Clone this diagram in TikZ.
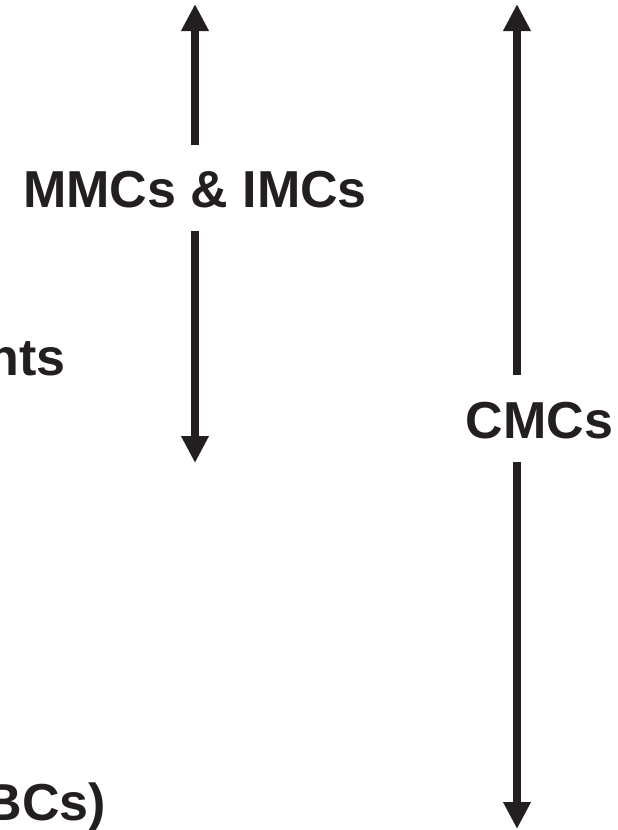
\documentclass[tikz,border=0pt]{standalone}
\usepackage{fontspec}
\setmainfont{Liberation Sans}
\usetikzlibrary{arrows.meta}
\definecolor{ink}{HTML}{231F20}
\begin{document}
\begin{tikzpicture}[x=1pt,y=-1pt,
  arr/.style={draw=ink,line width=8.5pt,-{Triangle[width=26pt,length=27pt]}},
  lbl/.style={text=ink,font=\fontsize{52}{60}\selectfont\bfseries,inner sep=0pt,anchor=base}]
\useasboundingbox (0,0) rectangle (618,830);
\clip (0,0) rectangle (618,830);
% left arrow
\node[lbl] (mm) at (195,207.5) {MMCs \& IMCs};
\coordinate (mmTop) at (195,145);
\coordinate (mmBot) at (195,231);
\coordinate (lUp) at (195,4);
\coordinate (lDn) at (195,463);
\draw[arr] (mmTop) -- (lUp);
\draw[arr] (mmBot) -- (lDn);
% right arrow
\node[lbl] (cm) at (539.5,438) {CMCs};
\coordinate (cmTop) at (517,375);
\coordinate (cmBot) at (517,462);
\coordinate (rUp) at (517,4);
\coordinate (rDn) at (517,829);
\draw[arr] (cmTop) -- (rUp);
\draw[arr] (cmBot) -- (rDn);
% texts cut off at the left edge, as in the reference
\node[lbl,anchor=base east] (nts) at (66,375) {nts};
\node[lbl,anchor=base east] (bcs) at (106,820) {BCs)};
\end{tikzpicture}
\end{document}
